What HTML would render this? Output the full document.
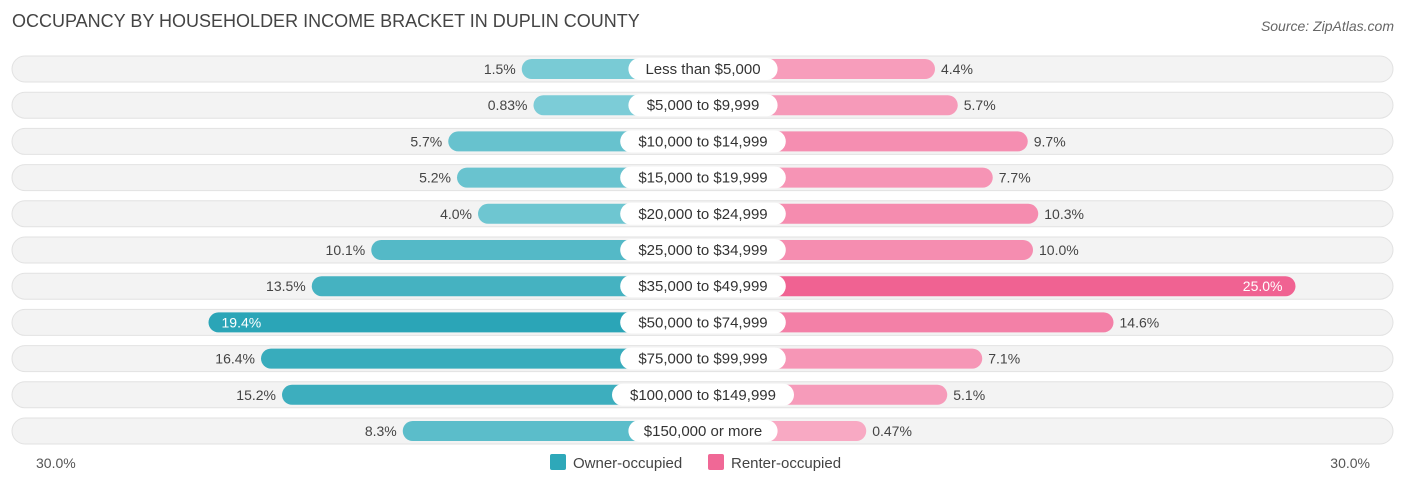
<!DOCTYPE html>
<html><head><meta charset="utf-8"><style>
body{margin:0;background:#fff;font-family:"Liberation Sans",sans-serif}
#wrap{position:relative;width:1406px;height:487px;overflow:hidden}
</style></head><body>
<div id="wrap">
<svg id="svg" width="1406" height="487" xmlns="http://www.w3.org/2000/svg" font-family="Liberation Sans, sans-serif">
<text x="12" y="27" font-size="18" fill="#444">OCCUPANCY BY HOUSEHOLDER INCOME BRACKET IN DUPLIN COUNTY</text>
<text x="1394" y="31" font-size="14" fill="#666" text-anchor="end" font-style="italic">Source: ZipAtlas.com</text>
<text x="36" y="468" font-size="14" fill="#555">30.0%</text>
<text x="1370" y="468" font-size="14" fill="#555" text-anchor="end">30.0%</text>
<rect x="550" y="454" width="16" height="16" rx="2" fill="#2ea8b9"/>
<text x="573" y="468" font-size="15" fill="#444">Owner-occupied</text>
<rect x="708" y="454" width="16" height="16" rx="2" fill="#f06896"/>
<text x="731" y="468" font-size="15" fill="#444">Renter-occupied</text>
<g id="rows"></g>
</svg>
</div>
<script>
const categories=["Less than $5,000","$5,000 to $9,999","$10,000 to $14,999","$15,000 to $19,999","$20,000 to $24,999","$25,000 to $34,999","$35,000 to $49,999","$50,000 to $74,999","$75,000 to $99,999","$100,000 to $149,999","$150,000 or more"];
const ownerValues=[1.5,0.83,5.7,5.2,4.0,10.1,13.5,19.4,16.4,15.2,8.3];
const renterValues=[4.4,5.7,9.7,7.7,10.3,10.0,25.0,14.6,7.1,5.1,0.47];
const ownerLabels=["1.5%","0.83%","5.7%","5.2%","4.0%","10.1%","13.5%","19.4%","16.4%","15.2%","8.3%"];
const renterLabels=["4.4%","5.7%","9.7%","7.7%","10.3%","10.0%","25.0%","14.6%","7.1%","5.1%","0.47%"];
const NS="http://www.w3.org/2000/svg";
const g=document.getElementById('rows');
const cx=703, off=155, k=17.5;
function xOwner(v){return cx-off-v*k;}
function xRenter(v){return cx+off+v*k;}
function yRow(i){return 69+i*36.2;}
function mix(a,b,t){return 'rgb('+a.map((c,j)=>Math.round(c+(b[j]-c)*t)).join(',')+')';}
function mk(tag,attrs){const e=document.createElementNS(NS,tag);for(const a in attrs)e.setAttribute(a,attrs[a]);return e;}
categories.forEach((c,i)=>{
  const y=yRow(i);
  const bg=mk('rect',{x:12,y:y-13,width:1381,height:26,rx:13,fill:'#f3f3f3',stroke:'#e2e2e2'});
  
  
  g.appendChild(bg);
  const ov=ownerValues[i], rv=renterValues[i];
  const ox=xOwner(ov);
  const ob=mk('rect',{x:ox,y:y-10,width:cx-ox,height:20,rx:10,fill:mix([128,206,216],[40,164,182],Math.min(ov/20,1))});
  
  
  g.appendChild(ob);
  const rx=xRenter(rv);
  const rb=mk('rect',{x:cx,y:y-10,width:rx-cx,height:20,rx:10,fill:mix([248,170,196],[240,98,146],Math.min(rv/25,1))});
  
  
  g.appendChild(rb);
  const lw=c.length*8.2+18;
  const lb=mk('rect',{x:cx-lw/2,y:y-11,width:lw,height:22,rx:11,fill:'#fff'});
  
  
  g.appendChild(lb);
  const lt=mk('text',{x:cx,y:y+5,'font-size':15,fill:'#333','text-anchor':'middle'});
  lt.textContent=c;
  
  
  g.appendChild(lt);
  const oin=ov>18;
  const ot=mk('text',{x:oin?ox+13:ox-6,y:y+5,'font-size':14,fill:oin?'#fff':'#444','text-anchor':oin?'start':'end'});
  ot.textContent=ownerLabels[i];
  
  
  g.appendChild(ot);
  const rin=rv>20;
  const rt=mk('text',{x:rin?rx-13:rx+6,y:y+5,'font-size':14,fill:rin?'#fff':'#444','text-anchor':rin?'end':'start'});
  rt.textContent=renterLabels[i];
  
  
  g.appendChild(rt);
});
</script>
</body></html>
